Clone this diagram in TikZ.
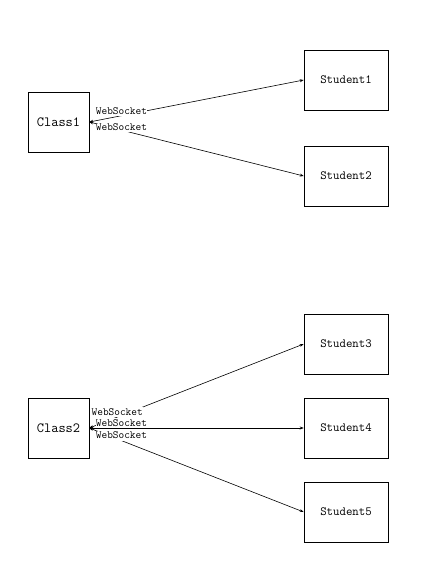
\documentclass[tikz,border=0pt]{standalone}
\usetikzlibrary{arrows.meta}

\begin{document}
\begin{tikzpicture}[x=1pt, y=-1pt,
    classbox/.style={draw, line width=0.6pt, minimum width=61pt, minimum height=60pt, font=\ttfamily\fontsize{14}{16}\selectfont},
    studentbox/.style={draw, line width=0.6pt, minimum width=84pt, minimum height=60pt, font=\ttfamily\fontsize{12.5}{14}\selectfont},
    link/.style={{Stealth[length=4pt,width=3pt]}-{Stealth[length=4pt,width=3pt]}, line width=0.6pt},
    wslabel/.style={fill=white, inner xsep=0.3pt, inner ysep=1.5pt, font=\ttfamily\fontsize{11}{11}\selectfont}]
    \useasboundingbox (0, 0) rectangle (446, 574);

    % Classes
    \node[classbox] (class1) at (58.5, 122) {Class1};
    \node[classbox] (class2) at (58.5, 428) {Class2};

    % Students
    \node[studentbox] (student1) at (346, 80) {Student1};
    \node[studentbox] (student2) at (346, 176) {Student2};
    \node[studentbox] (student3) at (346, 344) {Student3};
    \node[studentbox] (student4) at (346, 428) {Student4};
    \node[studentbox] (student5) at (346, 512) {Student5};

    % WebSocket links
    \draw[link] (class1.east) -- node[wslabel, pos=0.15, yshift=5pt] (ws1) {WebSocket} (student1.west);
    \draw[link] (class1.east) -- node[wslabel, pos=0.15, yshift=3pt] (ws2) {WebSocket} (student2.west);
    \draw[link] (class2.east) -- node[wslabel, pos=0.13, yshift=5pt] (ws3) {WebSocket} (student3.west);
    \draw[link] (class2.east) -- node[wslabel, pos=0.15, yshift=5pt] (ws4) {WebSocket} (student4.west);
    \draw[link] (class2.east) -- node[wslabel, pos=0.15, yshift=5pt] (ws5) {WebSocket} (student5.west);
\end{tikzpicture}
\end{document}
